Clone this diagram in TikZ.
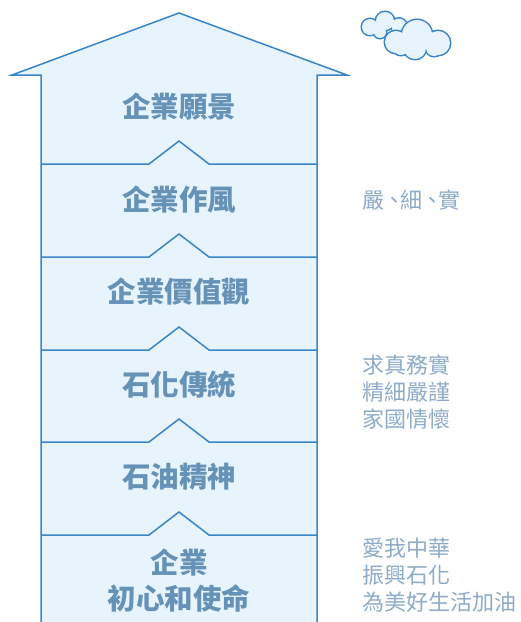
\documentclass[tikz,border=0pt]{standalone}
\usepackage{fontspec}
\setmainfont{Noto Sans CJK TC}
\definecolor{edge}{HTML}{3A84C8}
\definecolor{wall}{HTML}{E8F4FD}
\definecolor{lblc}{HTML}{6792B8}
\definecolor{notec}{HTML}{8EABC8}
\tikzset{
  house/.style={draw=edge, fill=wall, line width=1.5pt, line join=miter},
  floorline/.style={draw=edge, line width=1.5pt, line join=miter},
  lbl/.style={text=lblc, font=\fontsize{28.5}{36}\selectfont\bfseries, align=center, inner sep=0pt},
  note/.style={text=notec, font=\fontsize{22}{27}\selectfont, align=left, anchor=west, inner sep=0pt},
  cloudrim/.style={draw=edge, line width=3pt},
  cloudfill/.style={fill=wall}
}
\begin{document}
\begin{tikzpicture}[x=1pt,y=-1pt]
\useasboundingbox (0,0) rectangle (521,622);
% house body
\path[house] (41,624) -- (41,75) -- (12,75) -- (179,13) -- (347,75) -- (317,75) -- (317,624);
% floor lines with chevrons
\foreach \yy in {164,257,350,442,535}{
  \draw[floorline] (41,\yy) -- (149,\yy) -- (179,\yy-23) -- (209,\yy) -- (317,\yy);
}
% labels
\node[lbl] (l1) at (179,107) {企業願景};
\node[lbl] (l2) at (179,200) {企業作風};
\node[lbl] (l3) at (179,292) {企業價值觀};
\node[lbl] (l4) at (179,385) {石化傳統};
\node[lbl] (l5) at (179,477) {石油精神};
\node[lbl] (l6) at (179,581) {企業\\初心和使命};
% notes
\node[note] (n1) at (362,200) {嚴\kern-1pt、\kern-5pt細\kern-1pt、\kern-5pt實};
\node[note] (n2) at (362,392) {求真務實\\精細嚴謹\\家國情懷};
\node[note] (n3) at (362,575) {愛我中華\\振興石化\\為美好生活加油};
% small cloud
\foreach \cx/\cy/\r in {370/27/8, 385/21/9, 399/26/7.5, 380/32/6}{
  \path[cloudrim] (\cx,\cy) circle (\r);
}
\foreach \cx/\cy/\r in {370/27/8, 385/21/9, 399/26/7.5, 380/32/6}{
  \path[cloudfill] (\cx,\cy) circle (\r);
}
% large cloud
\foreach \cx/\cy/\r in {396/42/11, 417/35/15, 438/43/12, 415/48/11, 401/47/8, 434/48/8}{
  \path[cloudrim] (\cx,\cy) circle (\r);
}
\foreach \cx/\cy/\r in {396/42/11, 417/35/15, 438/43/12, 415/48/11, 401/47/8, 434/48/8}{
  \path[cloudfill] (\cx,\cy) circle (\r);
}
\end{tikzpicture}
\end{document}
